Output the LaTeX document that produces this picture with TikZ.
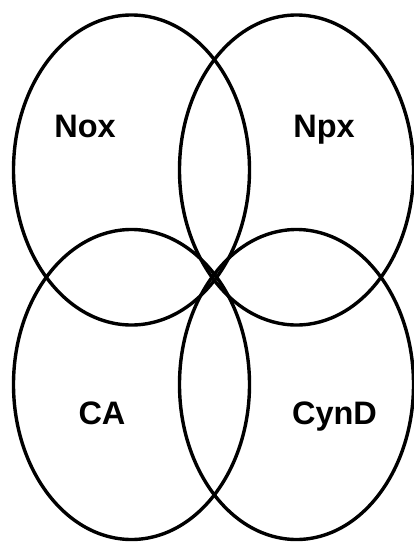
\documentclass[tikz,border=0pt]{standalone}
\usepackage{fontspec}
\setmainfont{Liberation Sans}
\begin{document}
\begin{tikzpicture}[x=1pt,y=-1pt,
  set/.style={draw=black,line width=3.4pt},
  lbl/.style={font=\bfseries\fontsize{32.5}{32.5}\selectfont,inner sep=0pt,anchor=base}]
\useasboundingbox (0,0) rectangle (414,544);
% four overlapping sets
\draw[set] (131.5,170) ellipse [x radius=118,y radius=155];
\draw[set] (296.5,170) ellipse [x radius=117,y radius=155];
\draw[set] (131.5,384.5) ellipse [x radius=118,y radius=155];
\draw[set] (296.5,384.5) ellipse [x radius=117,y radius=155];
% set names
\node[lbl] (nox) at (85,137) {Nox};
\node[lbl] (npx) at (324,137) {Npx};
\node[lbl] (ca) at (102,424) {CA};
\node[lbl] (cynd) at (334.5,424) {CynD};
\end{tikzpicture}
\end{document}
